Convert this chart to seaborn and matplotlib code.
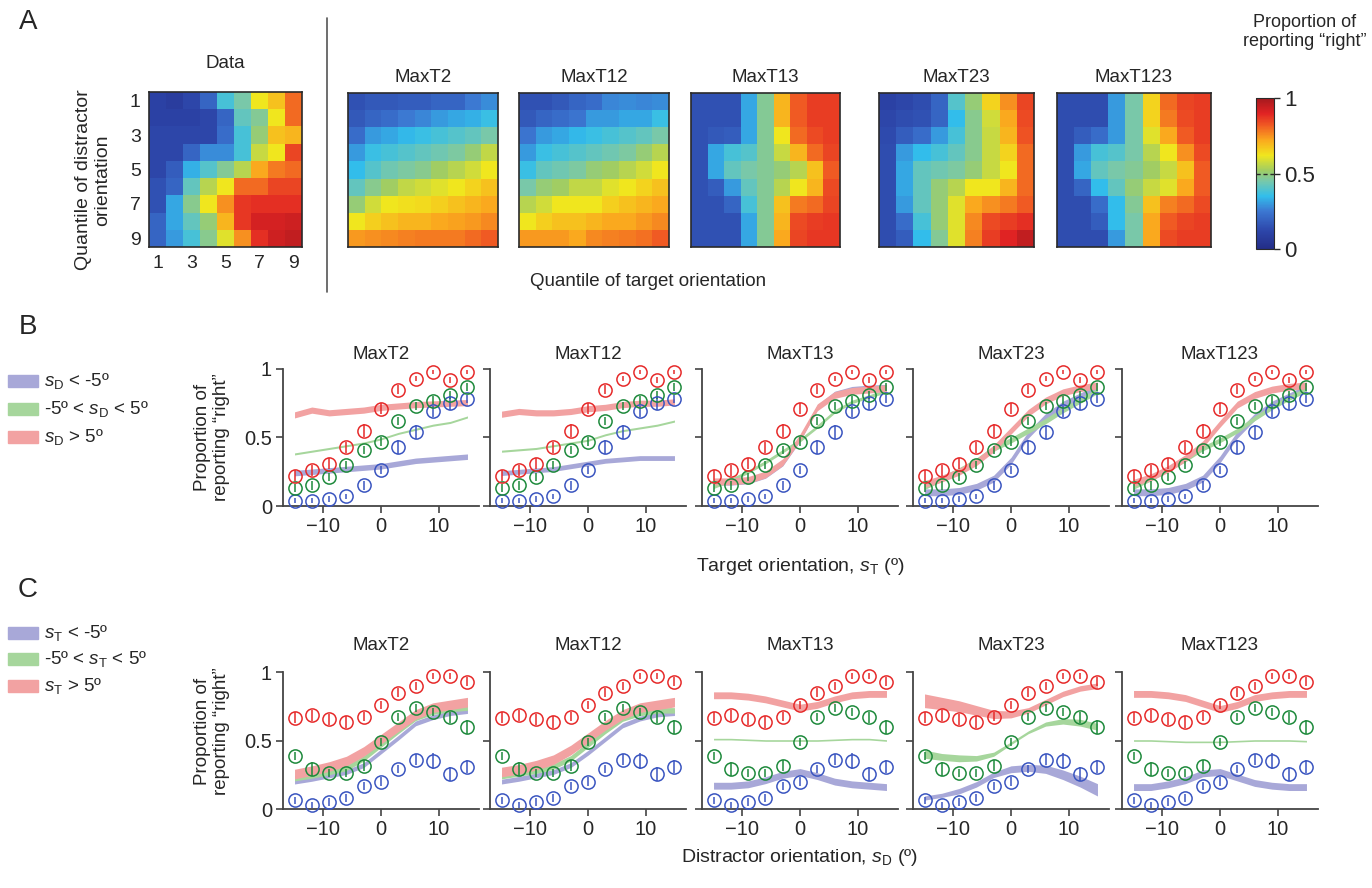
import numpy as np
import pandas as pd
import matplotlib
matplotlib.use("Agg")
import matplotlib.pyplot as plt
import seaborn as sns
from matplotlib.lines import Line2D
from matplotlib.colors import Normalize, LinearSegmentedColormap
from matplotlib.colorbar import ColorbarBase

sns.set_style("ticks")
plt.rcParams['font.family'] = ['Liberation Sans', 'DejaVu Sans']
plt.rcParams['mathtext.fontset'] = 'custom'
plt.rcParams['mathtext.rm'] = 'Liberation Sans'
plt.rcParams['mathtext.it'] = 'Liberation Sans:italic'

W, H = 1372, 888

# ---------- panel A : heatmaps (rows = distractor quantile 1..9, cols = target quantile 1..9)
heat_data = [
    [0.10, 0.08, 0.12, 0.20, 0.38, 0.45, 0.62, 0.68, 0.80],
    [0.10, 0.10, 0.10, 0.12, 0.20, 0.42, 0.47, 0.62, 0.80],
    [0.12, 0.12, 0.12, 0.12, 0.22, 0.38, 0.50, 0.68, 0.70],
    [0.12, 0.12, 0.20, 0.28, 0.28, 0.38, 0.57, 0.62, 0.85],
    [0.12, 0.18, 0.33, 0.40, 0.47, 0.55, 0.72, 0.78, 0.80],
    [0.15, 0.20, 0.42, 0.55, 0.62, 0.80, 0.80, 0.85, 0.85],
    [0.15, 0.32, 0.48, 0.62, 0.75, 0.87, 0.88, 0.88, 0.88],
    [0.20, 0.32, 0.42, 0.50, 0.70, 0.87, 0.92, 0.92, 0.93],
    [0.20, 0.30, 0.38, 0.48, 0.60, 0.75, 0.88, 0.93, 0.95],
]
heat_maxt2 = [
    [0.15, 0.17, 0.17, 0.18, 0.18, 0.20, 0.20, 0.25, 0.28],
    [0.17, 0.20, 0.22, 0.25, 0.27, 0.30, 0.32, 0.33, 0.36],
    [0.22, 0.30, 0.32, 0.34, 0.36, 0.38, 0.40, 0.42, 0.45],
    [0.30, 0.36, 0.38, 0.40, 0.42, 0.44, 0.46, 0.50, 0.56],
    [0.35, 0.40, 0.44, 0.46, 0.48, 0.52, 0.55, 0.58, 0.62],
    [0.42, 0.48, 0.52, 0.56, 0.58, 0.60, 0.62, 0.65, 0.68],
    [0.50, 0.58, 0.62, 0.63, 0.64, 0.66, 0.68, 0.70, 0.72],
    [0.62, 0.66, 0.68, 0.70, 0.70, 0.72, 0.73, 0.74, 0.76],
    [0.74, 0.75, 0.76, 0.77, 0.78, 0.78, 0.78, 0.80, 0.82],
]
heat_maxt12 = [
    [0.15, 0.15, 0.17, 0.20, 0.22, 0.27, 0.28, 0.27, 0.28],
    [0.17, 0.20, 0.22, 0.24, 0.30, 0.30, 0.32, 0.32, 0.36],
    [0.24, 0.30, 0.32, 0.34, 0.36, 0.38, 0.40, 0.42, 0.45],
    [0.30, 0.36, 0.38, 0.40, 0.42, 0.44, 0.46, 0.50, 0.55],
    [0.36, 0.42, 0.44, 0.46, 0.50, 0.52, 0.55, 0.58, 0.62],
    [0.45, 0.50, 0.52, 0.56, 0.56, 0.60, 0.62, 0.65, 0.68],
    [0.55, 0.58, 0.62, 0.62, 0.62, 0.66, 0.68, 0.70, 0.72],
    [0.62, 0.66, 0.68, 0.68, 0.70, 0.72, 0.72, 0.74, 0.76],
    [0.74, 0.74, 0.74, 0.72, 0.76, 0.77, 0.78, 0.79, 0.82],
]
heat_maxt13 = [
    [0.15, 0.15, 0.15, 0.32, 0.47, 0.70, 0.82, 0.86, 0.86],
    [0.15, 0.15, 0.15, 0.32, 0.47, 0.70, 0.82, 0.86, 0.86],
    [0.15, 0.17, 0.18, 0.32, 0.47, 0.62, 0.80, 0.84, 0.86],
    [0.15, 0.32, 0.38, 0.40, 0.47, 0.57, 0.70, 0.80, 0.85],
    [0.15, 0.32, 0.42, 0.45, 0.47, 0.50, 0.55, 0.68, 0.82],
    [0.15, 0.18, 0.30, 0.42, 0.47, 0.55, 0.62, 0.70, 0.84],
    [0.15, 0.15, 0.20, 0.38, 0.47, 0.68, 0.78, 0.80, 0.85],
    [0.15, 0.15, 0.15, 0.32, 0.47, 0.70, 0.84, 0.86, 0.87],
    [0.15, 0.15, 0.15, 0.32, 0.47, 0.72, 0.85, 0.87, 0.87],
]
heat_maxt23 = [
    [0.10, 0.12, 0.14, 0.20, 0.40, 0.50, 0.65, 0.75, 0.85],
    [0.12, 0.14, 0.15, 0.20, 0.35, 0.48, 0.58, 0.72, 0.84],
    [0.13, 0.18, 0.22, 0.30, 0.38, 0.48, 0.57, 0.70, 0.83],
    [0.14, 0.30, 0.35, 0.38, 0.42, 0.48, 0.57, 0.65, 0.80],
    [0.14, 0.32, 0.42, 0.44, 0.46, 0.50, 0.57, 0.62, 0.80],
    [0.14, 0.32, 0.42, 0.50, 0.55, 0.62, 0.62, 0.70, 0.80],
    [0.14, 0.30, 0.42, 0.50, 0.60, 0.72, 0.75, 0.78, 0.82],
    [0.14, 0.22, 0.38, 0.50, 0.60, 0.76, 0.84, 0.86, 0.88],
    [0.14, 0.18, 0.35, 0.47, 0.60, 0.77, 0.86, 0.90, 0.95],
]
heat_maxt123 = [
    [0.14, 0.14, 0.14, 0.30, 0.45, 0.65, 0.80, 0.85, 0.86],
    [0.14, 0.14, 0.14, 0.30, 0.45, 0.65, 0.78, 0.84, 0.86],
    [0.14, 0.18, 0.22, 0.30, 0.45, 0.60, 0.72, 0.82, 0.86],
    [0.14, 0.30, 0.38, 0.40, 0.45, 0.55, 0.62, 0.75, 0.84],
    [0.14, 0.32, 0.42, 0.45, 0.47, 0.52, 0.57, 0.68, 0.82],
    [0.14, 0.20, 0.35, 0.42, 0.50, 0.57, 0.60, 0.72, 0.82],
    [0.14, 0.14, 0.22, 0.35, 0.47, 0.68, 0.77, 0.80, 0.84],
    [0.14, 0.14, 0.18, 0.35, 0.45, 0.72, 0.82, 0.85, 0.86],
    [0.14, 0.14, 0.14, 0.30, 0.45, 0.72, 0.84, 0.86, 0.86],
]

models = ["MaxT2", "MaxT12", "MaxT13", "MaxT23", "MaxT123"]
model_heats = [heat_maxt2, heat_maxt12, heat_maxt13, heat_maxt23, heat_maxt123]

# ---------- panels B and C : orientation bins
orient = [-15, -12, -9, -6, -3, 0, 3, 6, 9, 12, 15]

# B: x = target orientation, groups by distractor (blue, green, red)
B_blue = [0.04, 0.04, 0.05, 0.07, 0.15, 0.26, 0.43, 0.54, 0.69, 0.75, 0.78]
B_green = [0.13, 0.15, 0.21, 0.30, 0.41, 0.47, 0.62, 0.73, 0.77, 0.81, 0.87]
B_red = [0.22, 0.26, 0.31, 0.43, 0.55, 0.71, 0.85, 0.93, 0.98, 0.92, 0.98]
B_blue_err = [0.02, 0.02, 0.02, 0.02, 0.03, 0.03, 0.05, 0.05, 0.04, 0.05, 0.03]
B_green_err = [0.03, 0.03, 0.03, 0.03, 0.03, 0.03, 0.03, 0.03, 0.03, 0.03, 0.03]
B_red_err = [0.04, 0.04, 0.04, 0.04, 0.05, 0.04, 0.03, 0.02, 0.015, 0.025, 0.015]

# C: x = distractor orientation, groups by target (blue, green, red)
C_blue = [0.065, 0.03, 0.05, 0.08, 0.17, 0.20, 0.29, 0.36, 0.35, 0.255, 0.31]
C_green = [0.385, 0.29, 0.26, 0.26, 0.315, 0.49, 0.67, 0.74, 0.71, 0.67, 0.60]
C_red = [0.665, 0.685, 0.655, 0.635, 0.675, 0.76, 0.85, 0.90, 0.97, 0.97, 0.93]
C_blue_err = [0.025, 0.02, 0.03, 0.03, 0.03, 0.03, 0.03, 0.04, 0.06, 0.05, 0.05]
C_green_err = [0.03, 0.05, 0.03, 0.03, 0.04, 0.03, 0.03, 0.03, 0.03, 0.04, 0.05]
C_red_err = [0.04, 0.04, 0.04, 0.045, 0.03, 0.03, 0.03, 0.03, 0.02, 0.02, 0.03]

# model bands: centre lines (blue, green, red) and widths
B_fit = {
    "MaxT2": [[0.24, 0.25, 0.26, 0.27, 0.28, 0.29, 0.31, 0.33, 0.34, 0.35, 0.36],
              [0.38, 0.40, 0.42, 0.44, 0.46, 0.49, 0.53, 0.56, 0.59, 0.61, 0.65],
              [0.665, 0.70, 0.68, 0.69, 0.70, 0.72, 0.73, 0.74, 0.745, 0.75, 0.755]],
    "MaxT12": [[0.24, 0.25, 0.26, 0.27, 0.29, 0.31, 0.33, 0.34, 0.35, 0.35, 0.35],
               [0.40, 0.41, 0.42, 0.44, 0.46, 0.48, 0.52, 0.55, 0.57, 0.59, 0.62],
               [0.67, 0.69, 0.68, 0.68, 0.69, 0.71, 0.72, 0.74, 0.75, 0.75, 0.76]],
    "MaxT13": [[0.17, 0.17, 0.18, 0.22, 0.31, 0.49, 0.72, 0.82, 0.855, 0.865, 0.87],
               [0.14, 0.19, 0.25, 0.32, 0.40, 0.48, 0.58, 0.69, 0.76, 0.80, 0.84],
               [0.18, 0.18, 0.19, 0.23, 0.32, 0.50, 0.72, 0.81, 0.84, 0.85, 0.86]],
    "MaxT23": [[0.10, 0.10, 0.11, 0.14, 0.20, 0.33, 0.52, 0.65, 0.74, 0.80, 0.86],
               [0.14, 0.20, 0.26, 0.33, 0.42, 0.48, 0.55, 0.62, 0.70, 0.77, 0.84],
               [0.16, 0.20, 0.25, 0.32, 0.42, 0.55, 0.68, 0.77, 0.83, 0.86, 0.88]],
    "MaxT123": [[0.10, 0.10, 0.11, 0.14, 0.20, 0.34, 0.52, 0.65, 0.74, 0.80, 0.86],
                [0.14, 0.20, 0.27, 0.34, 0.42, 0.48, 0.55, 0.64, 0.72, 0.79, 0.85],
                [0.17, 0.21, 0.27, 0.35, 0.45, 0.60, 0.74, 0.81, 0.85, 0.87, 0.88]],
}
B_width = {
    "MaxT2": [0.04, 0.015, 0.045],
    "MaxT12": [0.035, 0.015, 0.045],
    "MaxT13": [0.035, 0.025, 0.05],
    "MaxT23": [0.05, 0.04, 0.05],
    "MaxT123": [0.05, 0.035, 0.05],
}
C_fit = {
    "MaxT2": [[0.20, 0.22, 0.245, 0.27, 0.32, 0.42, 0.52, 0.625, 0.67, 0.70, 0.715],
              [0.225, 0.245, 0.27, 0.30, 0.37, 0.47, 0.57, 0.665, 0.71, 0.73, 0.74],
              [0.255, 0.28, 0.31, 0.35, 0.42, 0.51, 0.60, 0.69, 0.74, 0.76, 0.78]],
    "MaxT12": [[0.20, 0.22, 0.245, 0.27, 0.32, 0.41, 0.51, 0.61, 0.66, 0.69, 0.70],
               [0.24, 0.26, 0.28, 0.31, 0.37, 0.47, 0.57, 0.66, 0.70, 0.72, 0.72],
               [0.27, 0.29, 0.32, 0.36, 0.43, 0.52, 0.61, 0.69, 0.74, 0.76, 0.78]],
    "MaxT13": [[0.17, 0.17, 0.18, 0.21, 0.25, 0.27, 0.24, 0.20, 0.18, 0.17, 0.16],
               [0.51, 0.51, 0.505, 0.50, 0.50, 0.50, 0.50, 0.505, 0.51, 0.51, 0.50],
               [0.83, 0.83, 0.82, 0.80, 0.77, 0.74, 0.76, 0.80, 0.83, 0.84, 0.84]],
    "MaxT23": [[0.08, 0.10, 0.13, 0.18, 0.25, 0.29, 0.30, 0.29, 0.25, 0.20, 0.14],
               [0.40, 0.38, 0.37, 0.37, 0.40, 0.48, 0.56, 0.62, 0.64, 0.63, 0.60],
               [0.79, 0.77, 0.75, 0.72, 0.69, 0.69, 0.72, 0.78, 0.84, 0.88, 0.90]],
    "MaxT123": [[0.16, 0.16, 0.18, 0.21, 0.26, 0.27, 0.23, 0.19, 0.17, 0.16, 0.16],
                [0.50, 0.50, 0.495, 0.49, 0.49, 0.49, 0.495, 0.50, 0.50, 0.50, 0.495],
                [0.84, 0.84, 0.83, 0.81, 0.77, 0.73, 0.76, 0.81, 0.83, 0.84, 0.84]],
}
C_width = {
    "MaxT2": [0.035, 0.04, 0.07],
    "MaxT12": [0.035, 0.04, 0.07],
    "MaxT13": [0.05, 0.012, 0.05],
    "MaxT23": [[0.03, 0.03, 0.04, 0.04, 0.04, 0.05, 0.05, 0.06, 0.07, 0.08, 0.09],
               [0.06, 0.05, 0.05, 0.04, 0.03, 0.02, 0.02, 0.03, 0.04, 0.05, 0.05],
               [0.10, 0.09, 0.08, 0.07, 0.06, 0.05, 0.04, 0.04, 0.04, 0.04, 0.04]],
    "MaxT123": [0.05, 0.012, 0.05],
}

point_colors = ["#3a55c0", "#1e8a3c", "#e62a2a"]
band_colors = ["#a8a8d8", "#a6d69c", "#f2a2a2"]
B_legend = [r"$s_\mathrm{D}$ < -5º", r"-5º < $s_\mathrm{D}$ < 5º", r"$s_\mathrm{D}$ > 5º"]
C_legend = [r"$s_\mathrm{T}$ < -5º", r"-5º < $s_\mathrm{T}$ < 5º", r"$s_\mathrm{T}$ > 5º"]

# muted jet as printed in the figure
cmap_stops = [0.0, 0.12, 0.25, 0.35, 0.45, 0.52, 0.62, 0.72, 0.82, 0.9, 1.0]
cmap_rgb = ["#232d87", "#2d46aa", "#3c78d2", "#32beeb", "#78c8aa", "#a0cd64",
            "#f0e61e", "#faaa1e", "#f05a23", "#e12323", "#a5191e"]
heat_cmap = LinearSegmentedColormap.from_list("mjet", list(zip(cmap_stops, cmap_rgb)))


def box(l, t, r, b):
    return [l / W, 1 - b / H, (r - l) / W, (b - t) / H]


fig = plt.figure(figsize=(W / 100, H / 100), dpi=100)
ink = "#2a2a2a"

# ---------- panel A
fig.text(28 / W, 1 - 22 / H, "A", fontsize=20, ha="center", va="center")
heat_boxes = [(348, 93, 498, 247), (519, 93, 669, 247), (691, 93, 840, 247),
              (879, 93, 1034, 247), (1057, 93, 1211, 247)]


def draw_heat(ax, vals, title, pad):
    sns.heatmap(pd.DataFrame(vals), ax=ax, cmap=heat_cmap, vmin=0, vmax=1, cbar=False,
                xticklabels=False, yticklabels=False)
    for s in ax.spines.values():
        s.set_visible(True)
        s.set_color(ink)
        s.set_linewidth(1.2)
    ax.set_title(title, fontsize=13.5, pad=pad)


ax = fig.add_axes(box(149, 92, 302, 247))
draw_heat(ax, heat_data, "Data", 17)
ticks = [0.5, 2.5, 4.5, 6.5, 8.5]
ax.set_xticks(ticks)
ax.set_xticklabels(["1", "3", "5", "7", "9"], fontsize=14, rotation=0)
ax.set_yticks(ticks)
ax.set_yticklabels(["1", "3", "5", "7", "9"], fontsize=14, rotation=0)
ax.tick_params(length=0, pad=6)
fig.text(93 / W, 1 - 180 / H, "Quantile of distractor\norientation", rotation=90,
         fontsize=14, ha="center", va="center", linespacing=1.1)

for (l, t, r, b), name, vals in zip(heat_boxes, models, model_heats):
    ax = fig.add_axes(box(l, t, r, b))
    draw_heat(ax, vals, name, 8)

fig.text(648 / W, 1 - 281 / H, "Quantile of target orientation", fontsize=13.5,
         ha="center", va="center")
fig.add_artist(Line2D([327 / W, 327 / W], [1 - 18 / H, 1 - 292 / H], color="#555555", lw=1.2))

cax = fig.add_axes(box(1256, 98, 1274, 249))
cb = ColorbarBase(cax, cmap=heat_cmap, norm=Normalize(0, 1))
cb.set_ticks([0, 0.5, 1])
cb.set_ticklabels(["0", "0.5", "1"], fontsize=16)
cax.tick_params(length=4, width=1, color=ink)
cax.axhline(0.5, color=ink, ls=(0, (3, 2)), lw=1)
cb.outline.set_edgecolor(ink)
fig.text(1305 / W, 1 - 32 / H, "Proportion of\nreporting \u201cright\u201d", fontsize=13,
         ha="center", va="center", linespacing=1.15)

# ---------- panels B and C
lefts = [283, 490, 702, 913, 1122]


def draw_row(top, bottom, fits, widths, data, errs, title_pad):
    for i, name in enumerate(models):
        ax = fig.add_axes(box(lefts[i], top, lefts[i] + 196, bottom))
        for k in range(3):
            c = np.array(fits[name][k])
            w = np.array(widths[name][k]) / 2
            ax.fill_between(orient, c - w, c + w, color=band_colors[k], lw=0, zorder=1)
        for k in range(3):
            ax.errorbar(orient, data[k], yerr=errs[k], fmt="o", mfc="none",
                        mec=point_colors[k], ecolor=point_colors[k], ms=9.5, mew=1.1,
                        elinewidth=1.1, capsize=0, clip_on=False, zorder=3)
        ax.set_xlim(-17, 17)
        ax.set_ylim(0, 1)
        ax.set_xticks([-10, 0, 10])
        ax.set_yticks([0, 0.5, 1])
        if i == 0:
            ax.set_yticklabels(["0", "0.5", "1"])
        else:
            ax.set_yticklabels([])
        sns.despine(ax=ax)
        for s in ["left", "bottom"]:
            ax.spines[s].set_color("#444444")
            ax.spines[s].set_linewidth(1.3)
        ax.tick_params(direction="out", length=5, width=1.2, color="#444444",
                       labelsize=14.5, pad=3)
        ax.set_title(name, fontsize=13.5, pad=title_pad)


draw_row(369, 506, B_fit, B_width, [B_blue, B_green, B_red],
         [B_blue_err, B_green_err, B_red_err], 7)
draw_row(672, 809, C_fit, C_width, [C_blue, C_green, C_red],
         [C_blue_err, C_green_err, C_red_err], 16)

for ycen in (437, 731):
    fig.text(212 / W, 1 - ycen / H, "Proportion of\nreporting \u201cright\u201d", rotation=90,
             fontsize=13.5, ha="center", va="center", linespacing=1.1)

fig.text(800 / W, 1 - 566 / H, r"Target orientation, $s_\mathrm{T}$ (º)", fontsize=14,
         ha="center", va="center")
fig.text(800 / W, 1 - 857 / H, r"Distractor orientation, $s_\mathrm{D}$ (º)", fontsize=14,
         ha="center", va="center")

fig.text(28 / W, 1 - 327 / H, "B", fontsize=20, ha="center", va="center")
fig.text(28 / W, 1 - 590 / H, "C", fontsize=20, ha="center", va="center")

for ys, labels in (([381, 409, 437], B_legend), ([633, 659, 686], C_legend)):
    for y, lab, col in zip(ys, labels, band_colors):
        fig.patches.append(plt.Rectangle((8 / W, 1 - (y + 6) / H), 30 / W, 12 / H,
                                         color=col, transform=fig.transFigure, figure=fig))
        fig.text(44 / W, 1 - y / H, lab, fontsize=13.5, ha="left", va="center")

fig.savefig("out.png", dpi=100)
